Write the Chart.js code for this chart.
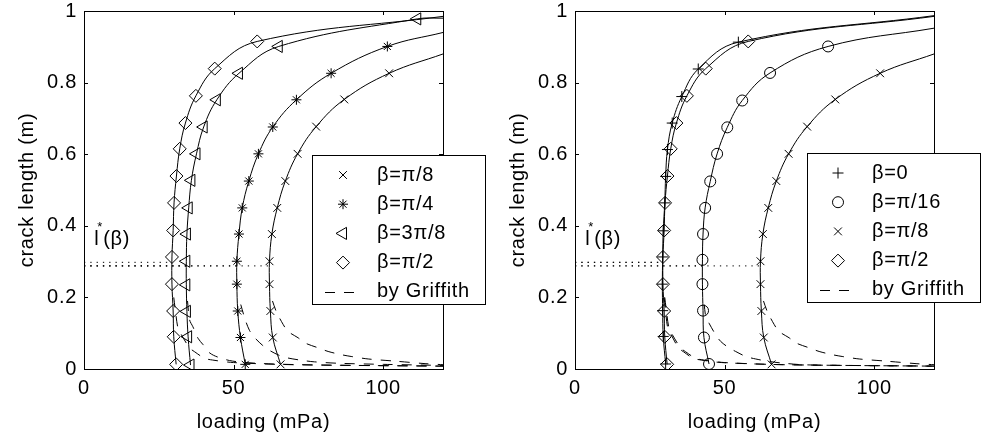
<!DOCTYPE html>
<html>
<head>
<meta charset="utf-8">
<script src="https://cdn.jsdelivr.net/npm/chart.js@4.4.1/dist/chart.umd.min.js"></script>
<style>
  html, body { margin: 0; padding: 0; background: #fff; }
  #wrap { position: relative; width: 981px; height: 444px; overflow: hidden; }
  .pane { position: absolute; top: 0; width: 490px; height: 444px; }
</style>
</head>
<body>
<div id="wrap">
  <div class="pane" style="left:0"><canvas id="left" width="490" height="444"></canvas></div>
  <div class="pane" style="left:491px"><canvas id="right" width="490" height="444"></canvas></div>
</div>
<script>
// axes
const xTicks = [0, 50, 100];
const xTickLabels = ['0', '50', '100'];
const yTicks = [0, 0.2, 0.4, 0.6, 0.8, 1];
const yTickLabels = ['0', '0.2', '0.4', '0.6', '0.8', '1'];

// solid curves: markers (loading, crack length) + value where the curve leaves at loading 120
const loadPi8 = [65.7, 63.1, 62.3, 62.0, 62.0, 62.8, 64.6, 67.3, 71.4, 77.6, 87.0, 102.0];
const lenPi8  = [0.013, 0.088, 0.162, 0.237, 0.301, 0.377, 0.450, 0.525, 0.601, 0.677, 0.753, 0.826];
const endPi8 = 0.88;

const loadPi4 = [53.9, 52.3, 51.4, 51.1, 51.1, 51.8, 52.9, 55.1, 58.3, 63.1, 71.0, 82.6, 101.4];
const lenPi4  = [0.013, 0.088, 0.162, 0.237, 0.301, 0.377, 0.450, 0.525, 0.601, 0.676, 0.752, 0.826, 0.901];
const endPi4 = 0.94;

const load3Pi8 = [35.6, 34.8, 34.4, 34.2, 34.2, 34.4, 35.0, 35.9, 37.6, 40.0, 44.4, 51.8, 65.1, 111.4];
const len3Pi8  = [0.011, 0.090, 0.161, 0.235, 0.301, 0.377, 0.450, 0.527, 0.601, 0.676, 0.752, 0.826, 0.901, 0.978];
const end3Pi8 = 0.98;

const loadPi2 = [30.8, 30.0, 29.8, 29.4, 29.4, 29.8, 30.1, 30.9, 32.0, 33.9, 37.4, 43.7, 57.9];
const lenPi2  = [0.013, 0.090, 0.162, 0.237, 0.313, 0.387, 0.464, 0.539, 0.615, 0.687, 0.763, 0.839, 0.915];
const endPi2 = 0.985;

const loadZero = [30.3, 29.5, 29.3, 29.2, 29.3, 29.5, 30.0, 30.3, 30.9, 32.5, 35.7, 41.2, 54.6];
const lenZero  = [0.014, 0.091, 0.163, 0.237, 0.313, 0.386, 0.464, 0.538, 0.613, 0.687, 0.761, 0.838, 0.913];
const endZero = 0.987;

const loadPi16 = [44.8, 43.1, 42.8, 42.6, 42.6, 42.8, 43.5, 45.2, 47.5, 50.9, 55.9, 65.2, 84.6];
const lenPi16  = [0.014, 0.088, 0.163, 0.237, 0.305, 0.377, 0.450, 0.524, 0.601, 0.675, 0.750, 0.827, 0.901];
const endPi16 = 0.952;

// dashed "by Griffith" curves
const gLoadPi8 = [63.0, 64.3, 66.6, 68.2, 71.6, 73.8, 78.3, 81.6, 86.0, 89.3, 95.0, 104.0, 114.0, 120.0];
const gLenPi8  = [0.19, 0.16, 0.124, 0.105, 0.087, 0.073, 0.059, 0.049, 0.040, 0.035, 0.028, 0.022, 0.015, 0.012];
const gLoadPi4 = [52.4, 53.8, 55.3, 57.0, 59.7, 62.0, 65.3, 68.0, 73.0, 77.0, 85.0, 100.0, 120.0];
const gLenPi4  = [0.18, 0.14, 0.108, 0.088, 0.066, 0.052, 0.038, 0.031, 0.024, 0.020, 0.016, 0.013, 0.010];
const gLoad3Pi8 = [34.6, 35.3, 36.4, 38.1, 39.8, 42.0, 44.8, 49.7, 60.0, 80.0, 120.0];
const gLen3Pi8  = [0.19, 0.137, 0.118, 0.086, 0.068, 0.045, 0.033, 0.022, 0.015, 0.011, 0.008];
const gLoadPi2 = [30.0, 30.6, 31.4, 32.6, 35.3, 37.0, 40.3, 43.0, 50.0, 70.0, 120.0];
const gLenPi2  = [0.20, 0.16, 0.115, 0.095, 0.059, 0.048, 0.030, 0.025, 0.018, 0.012, 0.008];
const gLoadZero = [29.8, 30.3, 31.0, 32.2, 34.6, 36.3, 39.5, 42.3, 49.0, 70.0, 120.0];
const gLenZero  = [0.20, 0.16, 0.115, 0.095, 0.059, 0.048, 0.030, 0.025, 0.018, 0.012, 0.008];
const gLoadPi16 = [43.2, 43.7, 44.8, 47.0, 48.7, 51.5, 53.7, 57.1, 60.4, 64.9, 68.8, 76.0, 90.0, 120.0];
const gLenPi16  = [0.18, 0.147, 0.128, 0.096, 0.077, 0.059, 0.049, 0.035, 0.028, 0.021, 0.017, 0.012, 0.010, 0.008];

// dotted l*(beta) levels: crack length and loading where each one stops
const starLenLeft  = [0.288, 0.288, 0.288, 0.298];
const starLoadLeft = [62.0, 51.1, 34.2, 29.4];
const starLenRight  = [0.298, 0.288, 0.288, 0.298];
const starLoadRight = [29.2, 42.6, 62.0, 29.4];

const labelsLeft  = ['β=π/8', 'β=π/4', 'β=3π/8', 'β=π/2'];
const labelsRight = ['β=0', 'β=π/16', 'β=π/8', 'β=π/2'];
const griffithLabel = 'by Griffith';

const FONT = '"Liberation Sans", Arial, Helvetica, sans-serif';
const SPACING = '0.7px';
Chart.defaults.font.family = FONT;
Chart.defaults.font.size = 20;
Chart.defaults.color = '#000';

const toPts = (xs, ys) => xs.map((v, i) => ({ x: v, y: ys[i] }));

function curve(label, load, len, end, mark) {
  const pts = toPts(load, len);
  return [
    { data: pts.concat([{ x: 120, y: end }]), showLine: true, borderColor: '#000', borderWidth: 1,
      pointRadius: 0, tension: 0.4 },
    { label: label, data: pts, showLine: false, pointStyle: mark.style, rotation: mark.rot || 0,
      pointRadius: mark.r, pointHoverRadius: mark.r, pointBorderColor: '#000',
      pointBackgroundColor: 'rgba(0,0,0,0)', pointBorderWidth: 1, mark: mark }
  ];
}

function dashed(load, len) {
  return { data: toPts(load, len), showLine: true, borderColor: '#000', borderWidth: 1,
    borderDash: [10, 9], pointRadius: 0, tension: 0.3 };
}

function dotted(lens, loads) {
  return lens.map((l, i) => ({ data: [{ x: 0, y: l }, { x: loads[i], y: l }], showLine: true,
    borderColor: '#000', borderWidth: 1, borderDash: [1.3, 5], pointRadius: 0 }));
}

const M = {
  xrot: { style: 'crossRot', r: 5.5 },
  star: { style: 'star', r: 5 },
  tri: { style: 'triangle', rot: -90, r: 7 },
  dia: { style: 'rectRot', r: 6.5 },
  plus: { style: 'cross', r: 5.5 },
  circ: { style: 'circle', r: 5.5 }
};

// slightly wider text, like the original figure's font
const spacing = {
  id: 'spacing',
  beforeUpdate(chart) { chart.ctx.letterSpacing = SPACING; },
  beforeDraw(chart) { chart.ctx.letterSpacing = SPACING; }
};

// frame with inward ticks on all four sides, l*(beta) label and boxed legend
const frame = {
  id: 'frame',
  afterDatasetsDraw(chart) {
    const { ctx, chartArea: a, scales } = chart;
    ctx.save();
    ctx.strokeStyle = '#000';
    ctx.lineWidth = 1;
    ctx.strokeRect(Math.round(a.left) + 0.5, Math.round(a.top) + 0.5,
      Math.round(a.right - a.left), Math.round(a.bottom - a.top));
    ctx.beginPath();
    xTicks.forEach(v => {
      const px = Math.round(scales.x.getPixelForValue(v)) + 0.5;
      ctx.moveTo(px, a.bottom); ctx.lineTo(px, a.bottom - 4);
      ctx.moveTo(px, a.top); ctx.lineTo(px, a.top + 4);
    });
    yTicks.forEach(v => {
      const py = Math.round(scales.y.getPixelForValue(v)) + 0.5;
      ctx.moveTo(a.left, py); ctx.lineTo(a.left + 4, py);
      ctx.moveTo(a.right, py); ctx.lineTo(a.right - 4, py);
    });
    ctx.stroke();

    const lx = scales.x.getPixelForValue(3.4);
    const ly = scales.y.getPixelForValue(0.345);
    ctx.fillStyle = '#000';
    ctx.textBaseline = 'alphabetic';
    ctx.font = '20px ' + FONT;
    ctx.fillText('l', lx, ly);
    ctx.font = '13px ' + FONT;
    ctx.fillText('*', lx + 3, ly - 14);
    ctx.font = '20px ' + FONT;
    ctx.fillText('(β)', lx + 9, ly);
    ctx.restore();
  },
  afterDraw(chart) {
    const o = chart.options.plugins.frame;
    const { ctx } = chart;
    ctx.save();
    ctx.fillStyle = '#fff';
    ctx.fillRect(o.left, o.top, o.width, o.height);
    ctx.strokeStyle = '#000';
    ctx.lineWidth = 1;
    ctx.strokeRect(o.left + 0.5, o.top + 0.5, o.width, o.height);
    ctx.font = '20px ' + FONT;
    ctx.textBaseline = 'middle';
    const marks = chart.data.datasets.filter(d => d.label);
    marks.forEach((d, i) => {
      const cy = o.top + o.first + i * o.step;
      ctx.fillStyle = 'rgba(0,0,0,0)';
      ctx.strokeStyle = '#000';
      ctx.lineWidth = 1;
      Chart.helpers.drawPoint(ctx, { pointStyle: d.mark.style, rotation: d.mark.rot || 0,
        radius: d.mark.r, borderWidth: 1 }, o.left + o.markX, cy);
      ctx.fillStyle = '#000';
      ctx.fillText(d.label, o.left + o.textX, cy);
    });
    const gy = o.top + o.first + marks.length * o.step;
    ctx.setLineDash([10, 9]);
    ctx.beginPath();
    ctx.moveTo(o.left + 13, Math.round(gy) + 0.5);
    ctx.lineTo(o.left + 50, Math.round(gy) + 0.5);
    ctx.stroke();
    ctx.setLineDash([]);
    ctx.fillStyle = '#000';
    ctx.fillText(griffithLabel, o.left + o.textX, gy);
    ctx.restore();
  }
};

function makeChart(id, datasets, legendLeft, legendTop) {
  return new Chart(document.getElementById(id), {
    type: 'scatter',
    data: { datasets: datasets },
    options: {
      responsive: false,
      animation: false,
      devicePixelRatio: 1,
      layout: { padding: { left: 0, right: 47, top: 11, bottom: 0 } },
      plugins: {
        legend: { display: false },
        tooltip: { enabled: false },
        frame: { left: legendLeft, top: legendTop, width: 173, height: 149,
          first: 20, step: 29.2, markX: 31, textX: 65 }
      },
      scales: {
        x: {
          type: 'linear', min: 0, max: 120,
          afterFit(s) { s.height = 75; s.paddingLeft = 0; s.paddingRight = 0; },
          afterBuildTicks(s) { s.ticks = xTicks.map(v => ({ value: v })); },
          grid: { display: false, drawTicks: false },
          border: { display: false },
          ticks: { padding: 7, maxRotation: 0, autoSkip: false, callback: (v, i) => xTickLabels[i] },
          title: { display: true, text: 'loading (mPa)', padding: { top: 0, bottom: 10 } }
        },
        y: {
          type: 'linear', min: 0, max: 1,
          afterFit(s) { s.width = 84; s.paddingTop = 0; s.paddingBottom = 0; },
          afterBuildTicks(s) { s.ticks = yTicks.map(v => ({ value: v })); },
          grid: { display: false, drawTicks: false },
          border: { display: false },
          ticks: { padding: 7, autoSkip: false, callback: (v, i) => yTickLabels[i] },
          title: { display: true, text: 'crack length (m)', padding: { top: 15, bottom: 0 } }
        }
      }
    },
    plugins: [spacing, frame]
  });
}

makeChart('left', [].concat(
  dotted(starLenLeft, starLoadLeft),
  dashed(gLoadPi8, gLenPi8), dashed(gLoadPi4, gLenPi4),
  dashed(gLoad3Pi8, gLen3Pi8), dashed(gLoadPi2, gLenPi2),
  curve(labelsLeft[0], loadPi8, lenPi8, endPi8, M.xrot),
  curve(labelsLeft[1], loadPi4, lenPi4, endPi4, M.star),
  curve(labelsLeft[2], load3Pi8, len3Pi8, end3Pi8, M.tri),
  curve(labelsLeft[3], loadPi2, lenPi2, endPi2, M.dia)
), 312, 155);

makeChart('right', [].concat(
  dotted(starLenRight, starLoadRight),
  dashed(gLoadZero, gLenZero), dashed(gLoadPi16, gLenPi16),
  dashed(gLoadPi8, gLenPi8), dashed(gLoadPi2, gLenPi2),
  curve(labelsRight[0], loadZero, lenZero, endZero, M.plus),
  curve(labelsRight[1], loadPi16, lenPi16, endPi16, M.circ),
  curve(labelsRight[2], loadPi8, lenPi8, endPi8, M.xrot),
  curve(labelsRight[3], loadPi2, lenPi2, endPi2, M.dia)
), 316, 153);
</script>
</body>
</html>
